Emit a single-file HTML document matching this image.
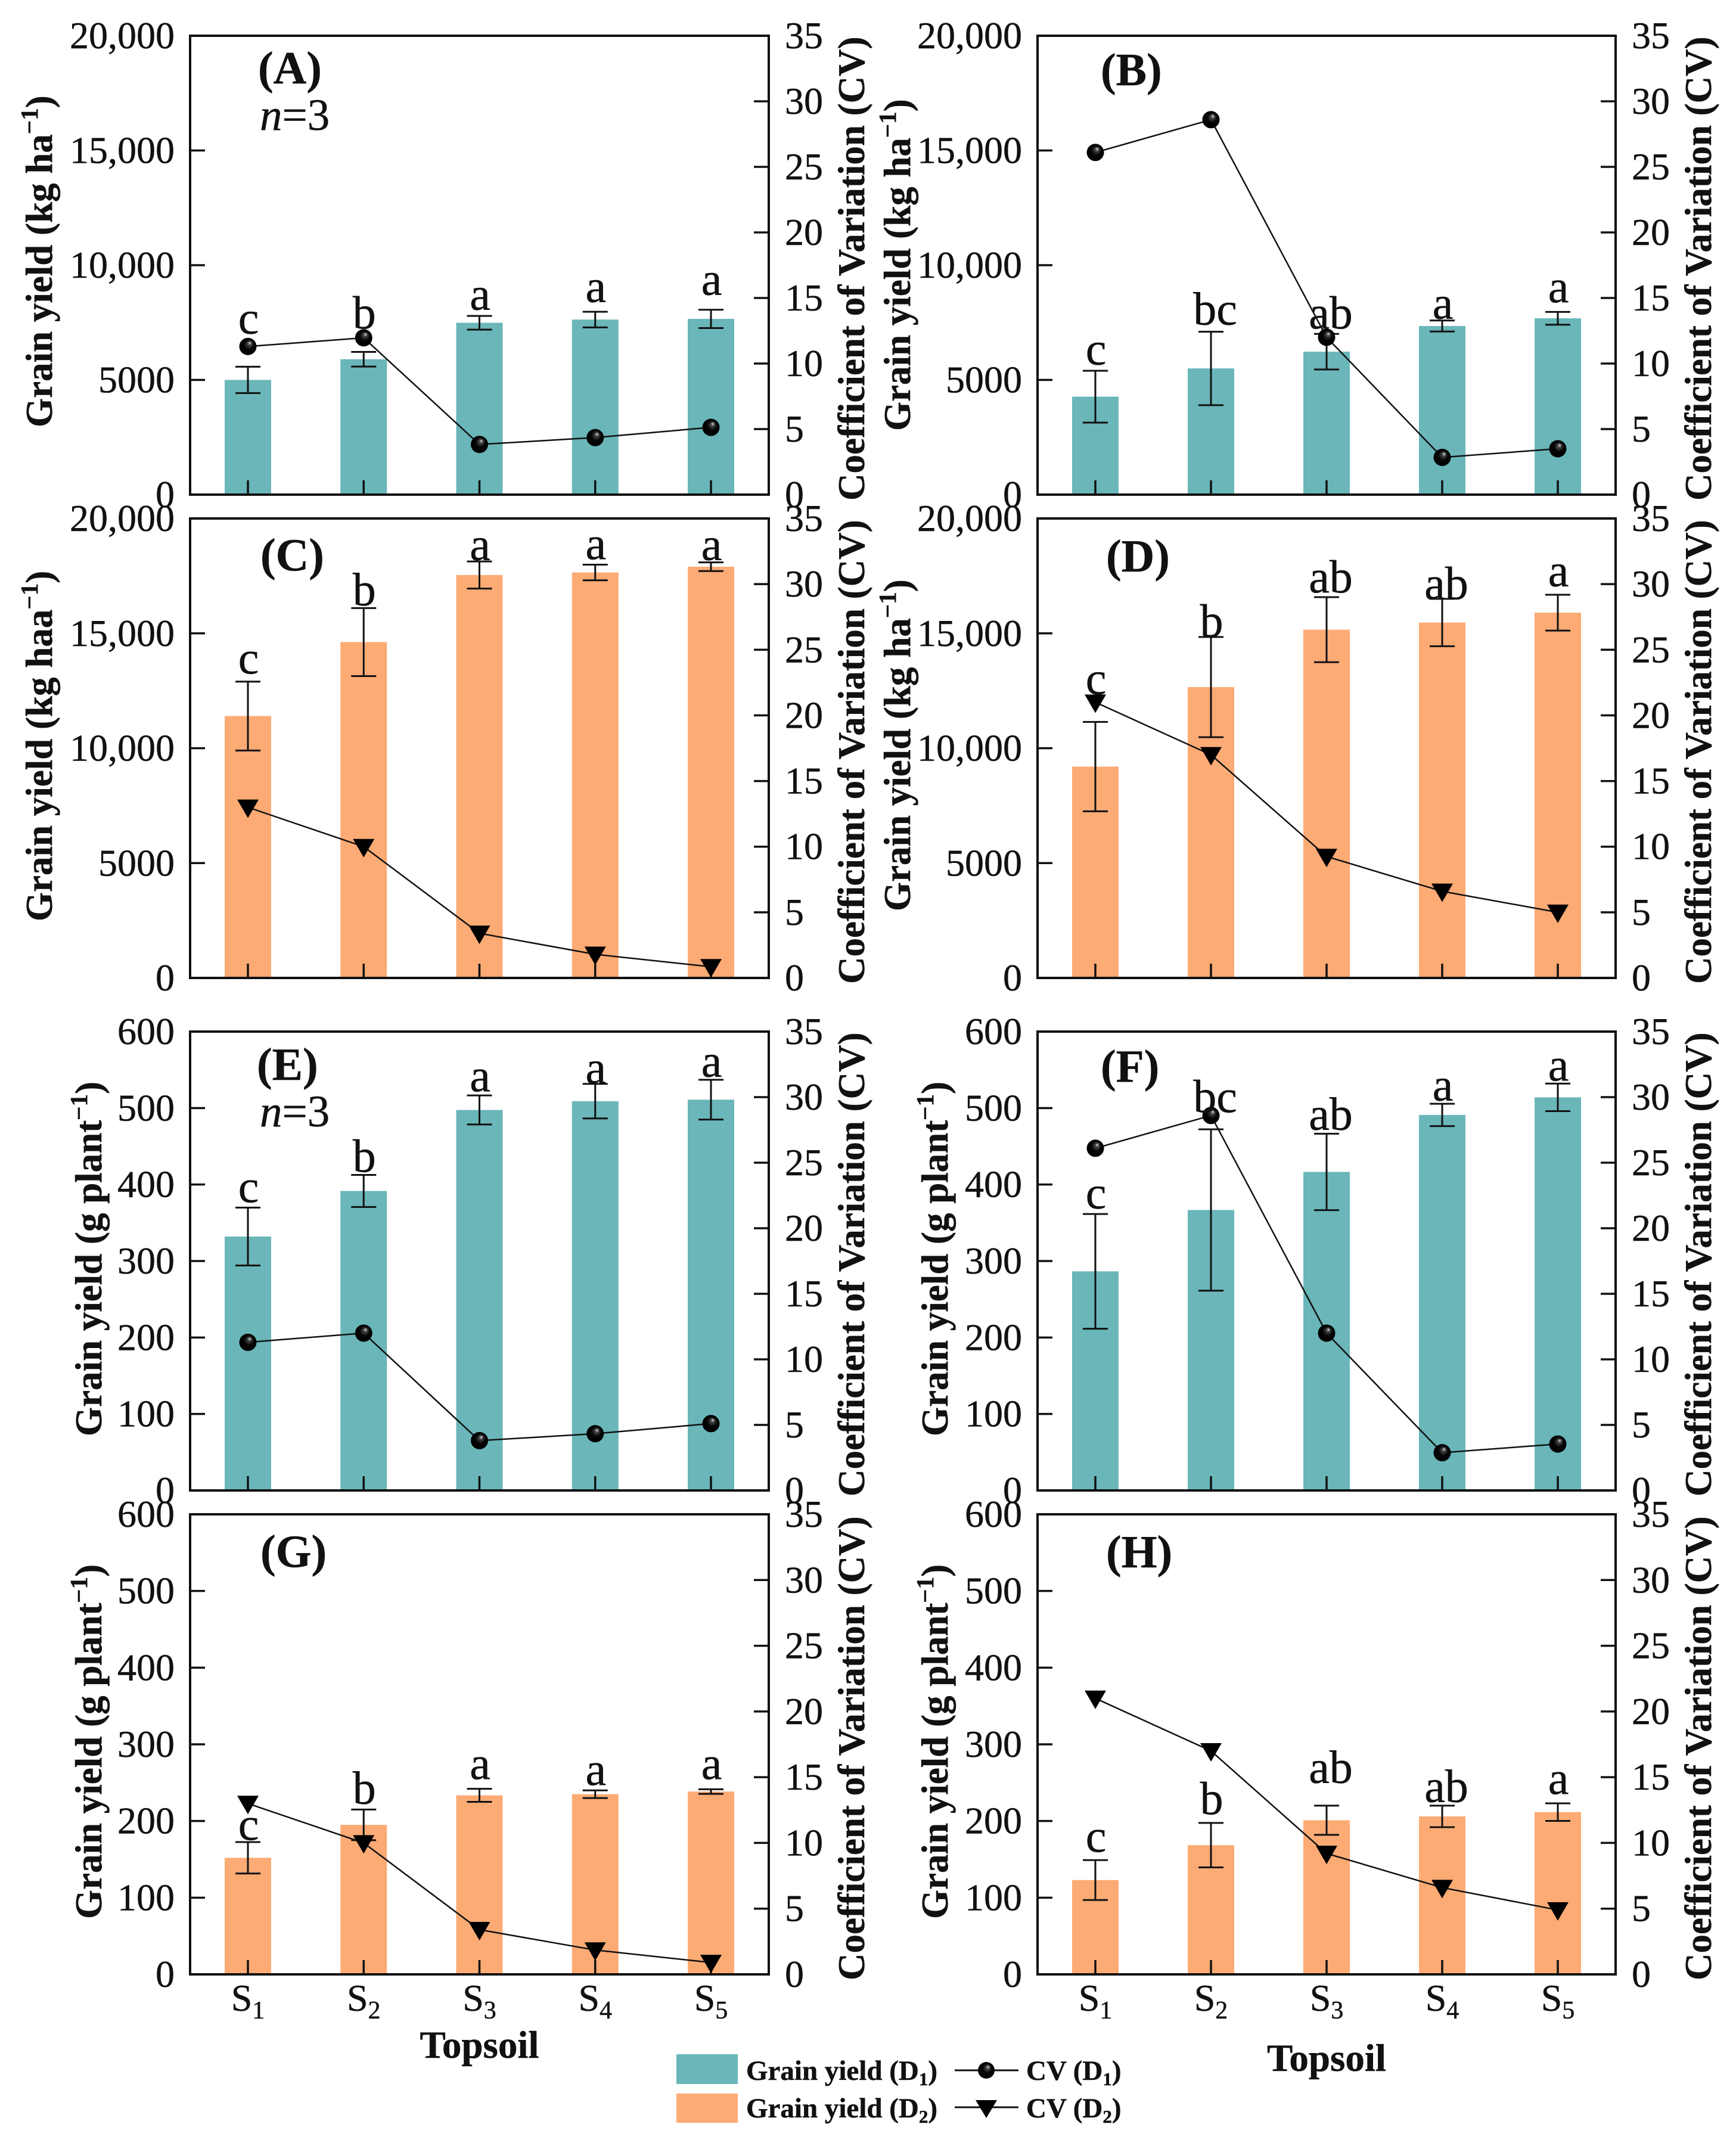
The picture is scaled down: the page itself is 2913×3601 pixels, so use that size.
<!DOCTYPE html>
<html lang="en">
<head>
<meta charset="utf-8">
<title>Grain yield and coefficient of variation by topsoil</title>
<style>
html,body{margin:0;padding:0;background:#fff}
svg{display:block}
text{font-family:"Liberation Serif",serif;fill:#111;stroke:#111;stroke-width:0.5px}
</style>
</head>
<body>
<svg id="chart" xmlns="http://www.w3.org/2000/svg" width="2913" height="3601" viewBox="0 0 2913 3601">
<defs>
<radialGradient id="sphere" cx="0.5" cy="0.5" r="0.55" fx="0.62" fy="0.28">
<stop offset="0" stop-color="#ddd"/><stop offset="0.2" stop-color="#444"/><stop offset="0.5" stop-color="#050505"/><stop offset="1" stop-color="#000"/>
</radialGradient>
</defs>
<rect width="2913" height="3601" fill="#fff"/>
<g id="panels"></g>
<g>
<rect x="1135" y="3447" width="103" height="50" fill="#6ab6b9"/>
<rect x="1135" y="3513" width="103" height="49" fill="#fdab75"/>
<text x="1252" y="3490" font-size="47" font-weight="700">Grain yield (D<tspan dy="9" font-size="31">1</tspan><tspan dy="-9">)</tspan></text>
<text x="1252" y="3553" font-size="47" font-weight="700">Grain yield (D<tspan dy="9" font-size="31">2</tspan><tspan dy="-9">)</tspan></text>
<line x1="1602" x2="1709" y1="3474" y2="3474" stroke="#111" stroke-width="3"/>
<circle cx="1655" cy="3474" r="14" fill="url(#sphere)"/>
<line x1="1602" x2="1709" y1="3536" y2="3536" stroke="#111" stroke-width="3"/>
<polygon points="1637,3524 1673,3524 1655,3554" fill="#000"/>
<text x="1722" y="3490" font-size="47" font-weight="700">CV (D<tspan dy="9" font-size="31">1</tspan><tspan dy="-9">)</tspan></text>
<text x="1722" y="3553" font-size="47" font-weight="700">CV (D<tspan dy="9" font-size="31">2</tspan><tspan dy="-9">)</tspan></text>
</g>
</svg>
<script>
// Categories and tick labels
const categories = ['1', '2', '3', '4', '5'];
const hectareTicks = [0, 5000, 10000, 15000, 20000];
const hectareTickLabels = ['0', '5000', '10,000', '15,000', '20,000'];
const plantTicks = [0, 100, 200, 300, 400, 500, 600];
const plantTickLabels = ['0', '100', '200', '300', '400', '500', '600'];
const cvTicks = [0, 5, 10, 15, 20, 25, 30, 35];
const cvTickLabels = ['0', '5', '10', '15', '20', '25', '30', '35'];

// Panel A
const yieldA = [5000, 5900, 7490, 7630, 7660];
const errorA = [575, 320, 300, 340, 400];
const cvA = [11.3, 11.96, 3.83, 4.35, 5.13];
const lettersA = ['c', 'b', 'a', 'a', 'a'];
const letterLevelsA = [7030, 7250, 8070, 8400, 8710];
// Panel B
const yieldB = [4270, 5500, 6230, 7350, 7685];
const errorB = [1130, 1600, 775, 240, 280];
const cvB = [26.1, 28.6, 12, 2.84, 3.5];
const lettersB = ['c', 'bc', 'ab', 'a', 'a'];
const letterLevelsB = [5670, 7420, 7250, 7680, 8390];
// Panel C
const yieldC = [11400, 14620, 17540, 17650, 17900];
const errorC = [1500, 1480, 590, 340, 190];
const cvC = [13, 10, 3.4, 1.8, 0.85];
const lettersC = ['c', 'b', 'a', 'a', 'a'];
const letterLevelsC = [13250, 16230, 18200, 18240, 18200];
// Panel D
const yieldD = [9200, 12660, 15160, 15470, 15900];
const errorD = [1945, 2180, 1415, 1030, 780];
const cvD = [21, 17, 9.25, 6.6, 5];
const lettersD = ['c', 'b', 'ab', 'ab', 'a'];
const letterLevelsD = [12360, 14860, 16780, 16500, 17050];
// Panel E
const yieldE = [332, 391.6, 497.5, 509, 511];
const errorE = [37.8, 21, 19, 22.6, 26];
const cvE = [11.3, 12, 3.8, 4.33, 5.1];
const lettersE = ['c', 'b', 'a', 'a', 'a'];
const letterLevelsE = [377, 417, 522, 532.5, 541];
// Panel F
const yieldF = [286.5, 366.7, 416.5, 491, 514];
const errorF = [75, 105.5, 50, 14.6, 18];
const cvF = [26.1, 28.6, 12, 2.88, 3.54];
const lettersF = ['c', 'bc', 'ab', 'a', 'a'];
const letterLevelsF = [369, 495, 472, 510, 536];
// Panel G
const yieldG = [152, 195, 233.5, 235, 238.4];
const errorG = [20.5, 20, 8.5, 5, 3];
const cvG = [13, 10, 3.4, 1.85, 0.9];
const lettersG = ['c', 'b', 'a', 'a', 'a'];
const letterLevelsG = [175.6, 222.6, 255, 247, 255];
// Panel H
const yieldH = [123, 168.5, 201, 206, 211.6];
const errorH = [26, 29, 19, 14, 11.5];
const cvH = [21, 17, 9.2, 6.6, 4.9];
const lettersH = ['c', 'b', 'ab', 'ab', 'a'];
const letterLevelsH = [160, 209, 250, 225, 235.5];

const COL_L = {left: 319, right: 1290};
const COL_R = {left: 1741, right: 2711};
const TEAL = '#6ab6b9';
const ORANGE = '#fdab75';
const INK = '#111';
const SVGNS = 'http://www.w3.org/2000/svg';
const root = document.getElementById('panels');

const panelList = [
  {id:'a', tag:'(A)', col:COL_L, top:60, bottom:830, yMax:20000, ticks:hectareTicks, labels:hectareTickLabels, unit:'kg ha', bar:TEAL, marker:'circle', y:yieldA, e:errorA, cv:cvA, letters:lettersA, levels:letterLevelsA, titleX:87, titleY:717, tagX:433, tagY:140, nY:218, nX:436},
  {id:'b', tag:'(B)', col:COL_R, top:60, bottom:830, yMax:20000, ticks:hectareTicks, labels:hectareTickLabels, unit:'kg ha', bar:TEAL, marker:'circle', y:yieldB, e:errorB, cv:cvB, letters:lettersB, levels:letterLevelsB, titleX:1527, titleY:723, tagX:1847, tagY:143},
  {id:'c', tag:'(C)', col:COL_L, top:870, bottom:1641, yMax:20000, ticks:hectareTicks, labels:hectareTickLabels, unit:'kg haa', bar:ORANGE, marker:'tri', y:yieldC, e:errorC, cv:cvC, letters:lettersC, levels:letterLevelsC, titleX:87, titleY:1546, tagX:437, tagY:957},
  {id:'d', tag:'(D)', col:COL_R, top:870, bottom:1641, yMax:20000, ticks:hectareTicks, labels:hectareTickLabels, unit:'kg ha', bar:ORANGE, marker:'tri', y:yieldD, e:errorD, cv:cvD, letters:lettersD, levels:letterLevelsD, titleX:1527, titleY:1529, tagX:1856, tagY:959},
  {id:'e', tag:'(E)', col:COL_L, top:1731, bottom:2501, yMax:600, ticks:plantTicks, labels:plantTickLabels, unit:'g plant', bar:TEAL, marker:'circle', y:yieldE, e:errorE, cv:cvE, letters:lettersE, levels:letterLevelsE, titleX:170, titleY:2410, tagX:431, tagY:1812, nY:1890, nX:436},
  {id:'f', tag:'(F)', col:COL_R, top:1731, bottom:2501, yMax:600, ticks:plantTicks, labels:plantTickLabels, unit:'g plant', bar:TEAL, marker:'circle', y:yieldF, e:errorF, cv:cvF, letters:lettersF, levels:letterLevelsF, titleX:1590, titleY:2410, tagX:1847, tagY:1815},
  {id:'g', tag:'(G)', col:COL_L, top:2541, bottom:3313, yMax:600, ticks:plantTicks, labels:plantTickLabels, unit:'g plant', bar:ORANGE, marker:'tri', y:yieldG, e:errorG, cv:cvG, letters:lettersG, levels:letterLevelsG, titleX:170, titleY:3220, tagX:437, tagY:2629, xAxis:true, topsoilY:3453},
  {id:'h', tag:'(H)', col:COL_R, top:2541, bottom:3313, yMax:600, ticks:plantTicks, labels:plantTickLabels, unit:'g plant', bar:ORANGE, marker:'tri', y:yieldH, e:errorH, cv:cvH, letters:lettersH, levels:letterLevelsH, titleX:1590, titleY:3220, tagX:1856, tagY:2630, xAxis:true, topsoilY:3475}
];

function make(tag, props, parent, text) {
  const el = document.createElementNS(SVGNS, tag);
  for (const k in props) el.setAttribute(k, props[k]);
  if (text !== undefined) el.textContent = text;
  parent.appendChild(el);
  return el;
}

function drawPanel(p) {
  const g = make('g', {}, root);
  
  

  const left = p.col.left, right = p.col.right;
  const band = (right - left - 2 * 97) / 4;
  const xOf = i => left + 97 + band * i;
  const yOf = v => p.bottom - (v / p.yMax) * (p.bottom - p.top);
  const cvOf = v => p.bottom - (v / 35) * (p.bottom - p.top);

  // bars
  p.y.forEach((v, i) => {
    const bar = make('rect', {x: xOf(i) - 39, y: yOf(v), width: 78, height: p.bottom - yOf(v), fill: p.bar}, g);
    
    
  });

  // frame
  const frame = make('rect', {x: left, y: p.top, width: right - left, height: p.bottom - p.top, fill: 'none', stroke: INK, 'stroke-width': 4}, g);
  
  

  // left ticks and labels
  p.ticks.forEach((t, i) => {
    if (t !== 0 && t !== p.yMax) {
      const tick = make('line', {x1: left, x2: left + 25, y1: yOf(t), y2: yOf(t), stroke: INK, 'stroke-width': 3.5}, g);
      
      
    }
    const label = make('text', {x: left - 26, y: yOf(t) + 21, 'font-size': 64, 'text-anchor': 'end'}, g, p.labels[i]);
    
    
  });

  // right ticks and labels
  cvTicks.forEach((t, i) => {
    if (t !== 0 && t !== 35) {
      const tick = make('line', {x1: right - 25, x2: right, y1: cvOf(t), y2: cvOf(t), stroke: INK, 'stroke-width': 3.5}, g);
      
      
    }
    const label = make('text', {x: right + 27, y: cvOf(t) + 21, 'font-size': 64}, g, cvTickLabels[i]);
    
    
  });

  // x ticks and labels
  categories.forEach((c, i) => {
    const tick = make('line', {x1: xOf(i), x2: xOf(i), y1: p.bottom - 24, y2: p.bottom, stroke: INK, 'stroke-width': 3.5}, g);
    
    
    if (p.xAxis) {
      const label = make('text', {x: xOf(i), y: p.bottom + 61, 'font-size': 64, 'text-anchor': 'middle'}, g, 'S');
      
      
      make('tspan', {dy: 13, 'font-size': 42}, label, c);
    }
  });

  // error bars
  p.y.forEach((v, i) => {
    const eg = make('g', {stroke: INK, 'stroke-width': 3, fill: 'none'}, g);
    
    
    const hi = yOf(v + p.e[i]), lo = yOf(v - p.e[i]), x = xOf(i);
    make('line', {x1: x, x2: x, y1: hi, y2: lo}, eg);
    make('line', {x1: x - 21, x2: x + 21, y1: hi, y2: hi}, eg);
    make('line', {x1: x - 21, x2: x + 21, y1: lo, y2: lo}, eg);
  });

  // CV line
  const linePts = p.cv.map((v, i) => xOf(i) + ',' + cvOf(v)).join(' ');
  const cvLine = make('polyline', {points: linePts, fill: 'none', stroke: INK, 'stroke-width': 2.5}, g);
  
  

  // CV markers
  p.cv.forEach((v, i) => {
    const x = xOf(i), y = cvOf(v);
    let m;
    if (p.marker === 'circle') {
      m = make('circle', {cx: x, cy: y, r: 14.5, fill: 'url(#sphere)'}, g);
    } else {
      m = make('polygon', {points: (x - 18) + ',' + (y - 13) + ' ' + (x + 18) + ',' + (y - 13) + ' ' + x + ',' + (y + 18), fill: '#000'}, g);
    }
    
    
  });

  // significance letters
  p.letters.forEach((s, i) => {
    const t = make('text', {x: xOf(i) + (s.length > 1 ? 7 : 1), y: yOf(p.levels[i]), 'font-size': 78, 'text-anchor': 'middle'}, g, s);
    
    
  });

  // panel tag
  const tag = make('text', {x: p.tagX, y: p.tagY, 'font-size': 77, 'font-weight': 700}, g, p.tag);
  
  

  if (p.nY) {
    const n = make('text', {x: p.nX, y: p.nY, 'font-size': 75}, g);
    
    
    make('tspan', {'font-style': 'italic'}, n, 'n');
    make('tspan', {}, n, '=3');
  }

  // left axis title
  const yTitle = make('text', {x: p.titleX, y: p.titleY, 'font-size': 63, 'font-weight': 700, transform: 'rotate(-90 ' + p.titleX + ' ' + p.titleY + ')'}, g, 'Grain yield (' + p.unit);
  
  
  make('tspan', {dy: -24, 'font-size': 41}, yTitle, '\u22121');
  make('tspan', {dy: 24}, yTitle, ')');

  // right axis title
  const rx = right + 160, ry = p.bottom + 10;
  const cvTitle = make('text', {x: rx, y: ry, 'font-size': 63, 'font-weight': 700, transform: 'rotate(-90 ' + rx + ' ' + ry + ')'}, g, 'Coefficient of Variation (CV)');
  
  

  if (p.topsoilY) {
    const xTitle = make('text', {x: (left + right) / 2, y: p.topsoilY, 'font-size': 65, 'font-weight': 700, 'text-anchor': 'middle'}, g, 'Topsoil');
    
    
  }
}

panelList.forEach(drawPanel);
</script>
</body>
</html>
